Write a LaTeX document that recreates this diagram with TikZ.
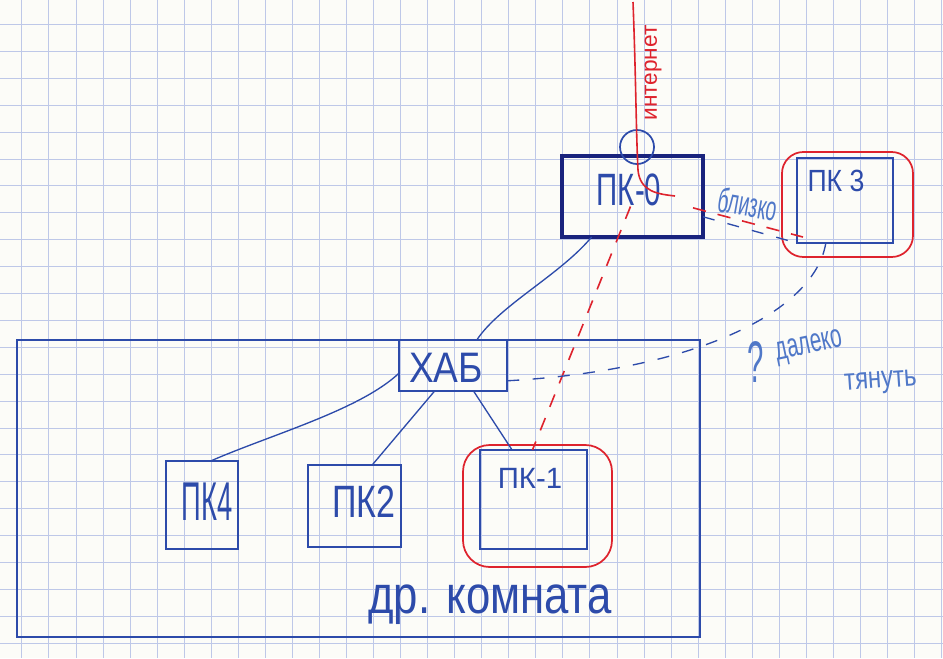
\documentclass[tikz,border=0pt]{standalone}
\usepackage{fontspec}
\usepackage{graphicx}
\setmainfont{Liberation Sans}
\usetikzlibrary{calc}
\definecolor{pen}{RGB}{45,75,170}
\definecolor{penlight}{RGB}{80,120,200}
\definecolor{navy}{RGB}{25,35,125}
\definecolor{redpen}{RGB}{222,35,45}
\definecolor{gridc}{RGB}{190,200,232}
\definecolor{paper}{RGB}{252,252,248}
\newcommand\hw[3]{\fontsize{#1}{#1}\selectfont\scalebox{#2}[1]{#3}}
\tikzset{
  sz/.style 2 args={minimum width={#1*0.75pt},minimum height={#2*0.75pt}},
  pcbox/.style={draw=pen,line width=1.1pt,inner sep=0pt,outer sep=0pt,rectangle},
  redring/.style={draw=redpen,line width=1.3pt,inner sep=0pt,outer sep=0pt,rectangle,rounded corners=16pt},
  lbl/.style={inner sep=0pt,outer sep=0pt,text=pen},
  lbllight/.style={inner sep=0pt,outer sep=0pt,text=penlight},
  wire/.style={draw=pen,line width=1pt},
  bluedash/.style={draw=pen,line width=1pt,dash pattern=on 9pt off 10pt},
  reddash/.style={draw=redpen,line width=1.2pt,dash pattern=on 10pt off 9pt},
  redwire/.style={draw=redpen,line width=1.2pt},
  gridline/.style={draw=gridc,line width=0.45pt}
}
\begin{document}
\begin{tikzpicture}[x=0.75pt,y=-0.75pt]
\useasboundingbox (0,0) rectangle (943,658);
\fill[paper] (0,0) rectangle (943,658);
% squared paper
\foreach \i in {0,...,34} \draw[gridline] ({21.7+27.05*\i},0) -- ({21.7+27.05*\i},658);
\foreach \j in {0,...,24} \draw[gridline] (0,{24.3+26.9*\j}) -- (943,{24.3+26.9*\j});

% room
\node[pcbox,sz={683}{297}] (room) at (358.5,488.5) {};
\node[lbl,anchor=base] (roomlbl) at (490,613) {\hw{40}{0.82}{др. комната}};

% boxes
\node[pcbox,draw=navy,line width=3.6pt,sz={141}{81}] (pc0) at (632.5,196.5) {};
\node[pcbox,sz={96}{85}] (pc3) at (845,200.5) {};
\node[redring,sz={131}{105}] (pc3r) at (847.5,204.5) {};
\node[pcbox,sz={108}{51}] (hub) at (453,365.5) {};
\node[pcbox,sz={72}{88}] (pc4) at (202,505) {};
\node[pcbox,sz={93}{82}] (pc2) at (354.5,506) {};
\node[pcbox,sz={107}{99}] (pc1) at (533.5,499.5) {};
\node[redring,rounded corners=20pt,sz={149}{122}] (pc1r) at (537.5,506) {};
\node[draw=pen,line width=1.3pt,circle,inner sep=0pt,minimum size={34*0.75pt}] (jack) at (637,147) {};

% box labels
\node[lbl] (t0) at (629,190) {\hw{34}{0.65}{ПК-0}};
\node[lbl] (t3) at (836,181) {\hw{23}{0.87}{ПК 3}};
\node[lbl] (th) at (446,368) {\hw{32}{0.87}{ХАБ}};
\node[lbl] (t4) at (207,502) {\hw{41}{0.5}{ПК4}};
\node[lbl] (t2) at (364,502) {\hw{34}{0.75}{ПК2}};
\node[lbl] (t1) at (530,478) {\hw{22}{1}{ПК-1}};

% free texts
\node[lbl,text=redpen,rotate=90] (inettxt) at (653,73) {\hw{17}{1}{интернет}};
\node[lbllight,rotate=-10] (near) at (748,204) {\hw{26}{0.55}{близко}};
\node[lbllight] (q) at (756,362) {\hw{44}{0.5}{?}};
\node[lbllight,anchor=base,rotate=12] (far) at (811,353) {\hw{25}{0.62}{далеко}};
\node[lbllight,anchor=base,rotate=4] (pull) at (881,388) {\hw{23}{0.78}{тянуть}};

% internet cable
\coordinate (inet) at (633,2);
\coordinate (inetend) at (675,196);
\draw[redwire] (inet) .. controls (636,80) and (636,130) .. (638,170) .. controls (640,192) and (658,194) .. (inetend);

% connectors
\draw[wire] ($(pc0.south west)!0.21!(pc0.south east)$) .. controls (560,275) and (500,305) .. ($(hub.north west)!0.72!(hub.north east)$);
\draw[wire] ($(hub.north west)!0.65!(hub.south west)$) .. controls (360,410) and (270,435) .. ($(pc4.north west)!0.62!(pc4.north east)$);
\draw[wire] ($(hub.south west)!0.33!(hub.south east)$) -- ($(pc2.north west)!0.69!(pc2.north east)$);
\draw[wire] ($(hub.south west)!0.69!(hub.south east)$) -- ($(pc1.north west)!0.3!(pc1.north east)$);

% candidate links
\draw[reddash] ($(pc0.center)+(-2,10)$) -- ($(pc1.north west)!0.49!(pc1.north east)$);
\draw[reddash] ($(pc0.north east)!0.64!(pc0.south east)+(-10,0)$) -- ($(pc3.north west)!0.93!(pc3.south west)+(6,0)$);
\draw[bluedash] ($(pc0.north east)!0.75!(pc0.south east)$) -- (pc3.south west);
\draw[bluedash] ($(pc3.south west)!0.3!(pc3.south east)$) .. controls (815,310) and (700,370) .. ($(hub.south east)!0.2!(hub.north east)$);
\end{tikzpicture}
\end{document}
